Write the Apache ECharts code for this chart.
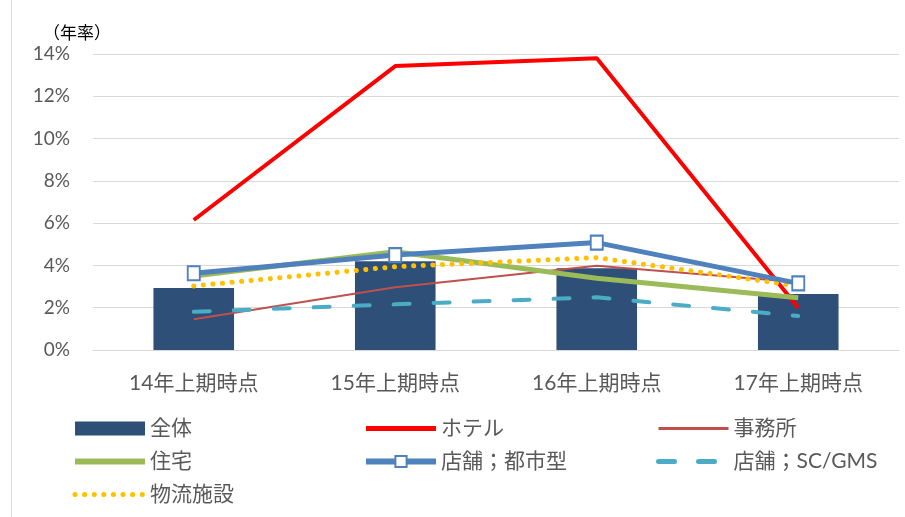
<!DOCTYPE html>
<html><head><meta charset="utf-8">
<script src="https://cdn.jsdelivr.net/npm/echarts@6/dist/echarts.min.js"></script>
<style>html,body{margin:0;padding:0;background:#fff}#c{width:905px;height:517px}</style>
</head><body><div id="c"></div>
<script>
const categories = ['14年上期時点','15年上期時点','16年上期時点','17年上期時点'];
const yTicks = [0,2,4,6,8,10,12,14];
const zentai = [2.93, 4.2, 3.87, 2.65];
const hotel = [6.15, 13.43, 13.8, 2.0];
const jimusho = [1.45, 2.97, 3.99, 3.2];
const jutaku = [3.5, 4.65, 3.39, 2.47];
const toshi = [3.63, 4.49, 5.08, 3.15];
const scgms = [1.81, 2.16, 2.49, 1.61];
const butsuryu = [3.03, 3.94, 4.37, 3.03];

const FONT = 'Lato, "Noto Sans CJK JP", sans-serif';
const chart = echarts.init(document.getElementById('c'), null, {renderer:'canvas'});
const legendText = {color:'#595959', fontSize:21, lineHeight:20, fontFamily:FONT};
function lg(items, left){
  return {data:items, orient:'vertical', left:left, top:413, itemWidth:70, itemHeight:14, itemGap:12,
    textStyle:legendText, selectedMode:false};
}
const hide = {opacity:0};
chart.setOption({
  animation:false,
  title:{text:'（年率）', left:38, top:20, textStyle:{fontSize:17, fontWeight:'normal', color:'#000', fontFamily:FONT}},
  graphic:[{type:'line', shape:{x1:11.5,y1:0,x2:11.5,y2:517}, style:{stroke:'#d9d9d9', lineWidth:1}}],
  grid:{left:93, right:6, top:54, bottom:167, containLabel:false},
  legend:[
    lg([{name:'全体', icon:'rect'}, {name:'住宅', itemStyle:hide, lineStyle:{width:6}}, {name:'物流施設', itemStyle:hide, lineStyle:{width:5}}], 67),
    lg([{name:'ホテル', itemStyle:hide, lineStyle:{width:5}}, {name:'店舗；都市型', lineStyle:{width:6}}], 358),
    lg([{name:'事務所', itemStyle:hide, lineStyle:{width:3}}, {name:'店舗；SC/GMS', itemStyle:hide, lineStyle:{width:5}}], 651)
  ],
  xAxis:{type:'category', data:categories,
    axisLine:{lineStyle:{color:'#d9d9d9'}}, axisTick:{show:false},
    axisLabel:{color:'#595959', fontSize:21, margin:23, fontFamily:FONT}},
  yAxis:{type:'value', min:yTicks[0], max:yTicks[yTicks.length-1], interval:2,
    axisLine:{show:false}, axisTick:{show:false},
    splitLine:{lineStyle:{color:'#d9d9d9'}},
    axisLabel:{formatter:'{value}%', color:'#595959', fontSize:19, margin:23, fontFamily:FONT}},
  series:[
    {name:'全体', type:'bar', data:zentai, barWidth:'40%', itemStyle:{color:'#2E4F77'}},
    {name:'ホテル', type:'line', data:hotel, symbol:'none', lineStyle:{color:'#FF0000', width:4}, itemStyle:{color:'#FF0000'}},
    {name:'事務所', type:'line', data:jimusho, symbol:'none', lineStyle:{color:'#C0504D', width:2}, itemStyle:{color:'#C0504D'}},
    {name:'住宅', type:'line', data:jutaku, symbol:'none', lineStyle:{color:'#9BBB59', width:5}, itemStyle:{color:'#9BBB59'}},
    {name:'店舗；SC/GMS', type:'line', data:scgms, symbol:'none', lineStyle:{color:'#4BACC6', width:4, type:[16,24], cap:'round'}, itemStyle:{color:'#4BACC6'}},
    {name:'物流施設', type:'line', data:butsuryu, symbol:'none', lineStyle:{color:'#FFC000', width:5, type:[0.1,9.5], cap:'round'}, itemStyle:{color:'#FFC000'}},
    {name:'店舗；都市型', type:'line', data:toshi, symbol:'rect', symbolSize:[12,14], lineStyle:{color:'#4F81BD', width:5},
      itemStyle:{color:'#fff', borderColor:'#4F81BD', borderWidth:2}}
  ]
});
</script></body></html>
